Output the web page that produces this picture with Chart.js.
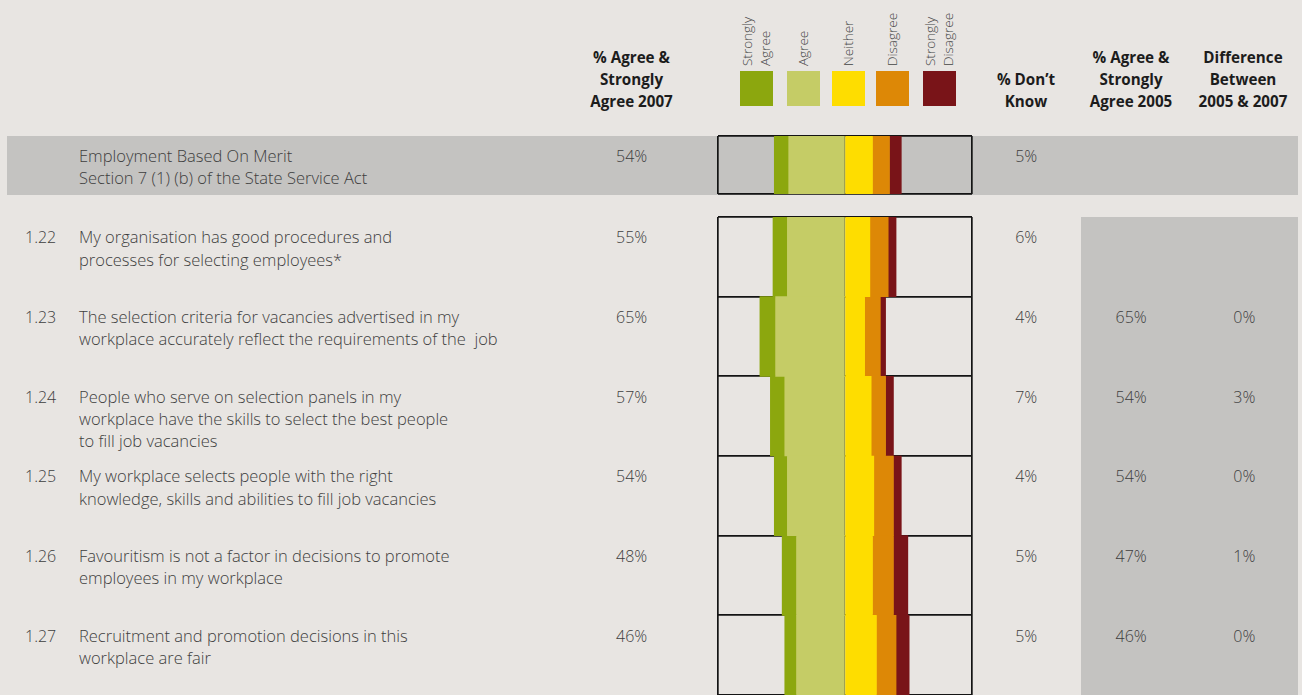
<!DOCTYPE html>
<html>
<head>
<meta charset="utf-8">
<script src="https://cdn.jsdelivr.net/npm/chart.js@4/dist/chart.umd.min.js"></script>
<style>
  html, body { margin: 0; padding: 0; background: #e8e5e2; width: 1302px; height: 695px; overflow: hidden;
    font-family: "Open Sans", "Noto Sans", sans-serif; color: #3e3e3e; }
  #page { position: relative; width: 1302px; height: 695px; }
  .band { position: absolute; background: #c4c3c1; }
  .head { position: absolute; font-weight: 700; font-size: 15.2px; line-height: 21.7px; text-align: center;
    color: #1c1c1c; transform: translateX(-50%); white-space: pre; }
  .txt { position: absolute; font-size: 16.5px; font-weight: 300; line-height: 22.4px; white-space: pre; }
  .code { position: absolute; font-size: 16px; font-weight: 300; line-height: 22.4px; white-space: pre; }
  .num { position: absolute; font-size: 16px; font-weight: 300; line-height: 22px; transform: translateX(-50%); white-space: pre; }
  .swatch { position: absolute; width: 33px; height: 35px; }
  .lgtext { position: absolute; font-size: 13.5px; font-weight: 300; line-height: 18.4px; transform-origin: 0 0;
    transform: rotate(-90deg); white-space: pre; color: #444; }
  canvas { position: absolute; }
</style>
</head>
<body>
<div id="page">
  <div class="band" style="left:7px; top:136px; width:1291px; height:58.6px;"></div>
  <div class="band" style="left:1081px; top:217.3px; width:217px; height:480px;"></div>
  <canvas id="topChart"></canvas>
  <canvas id="rowsChart"></canvas>
</div>
<script>
// Survey items: the first entry is the section summary row
const codes = ['', '1.22', '1.23', '1.24', '1.25', '1.26', '1.27'];
const statements = [
  'Employment Based On Merit\nSection 7 (1) (b) of the State Service Act',
  'My organisation has good procedures and\nprocesses for selecting employees*',
  'The selection criteria for vacancies advertised in my\nworkplace accurately reflect the requirements of the  job',
  'People who serve on selection panels in my\nworkplace have the skills to select the best people\nto fill job vacancies',
  'My workplace selects people with the right\nknowledge, skills and abilities to fill job vacancies',
  'Favouritism is not a factor in decisions to promote\nemployees in my workplace',
  'Recruitment and promotion decisions in this\nworkplace are fair'
];

// Response distribution (%)
const stronglyAgree    = [11, 11, 12, 11, 10, 11,  9];
const agree            = [43, 44, 53, 46, 44, 37, 37];
const neither          = [21, 19, 15, 20, 22, 21, 24];
const disagree         = [13, 14, 12, 11, 15, 16, 15];
const stronglyDisagree = [ 9,  6,  4,  6,  6, 11, 10];

// Table columns (%)
const agreeTotal2007 = [54, 55, 65, 57, 54, 48, 46];
const dontKnow       = [ 5,  6,  4,  7,  4,  5,  5];
const agreeTotal2005 = [null, null, 65, 54, 54, 47, 46];
const difference     = [null, null,  0,  3,  0,  1,  0];

const legendLabels = ['Strongly\nAgree', 'Agree', 'Neither', 'Disagree', 'Strongly\nDisagree'];

const COLORS = {
  stronglyAgree: '#8ca70e',
  agree: '#c5cc66',
  neither: '#fedd00',
  disagree: '#dd8806',
  stronglyDisagree: '#791418'
};

const SPAN = 97;           // half-width of the diverging axis, in %
const PAD = 2;             // canvas padding so the frame lines are not clipped
const BOX_LEFT = 717.8, BOX_WIDTH = 254.4;

function buildChart(id, from, to, top, height) {
  const canvas = document.getElementById(id);
  canvas.width = BOX_WIDTH + 2 * PAD;
  canvas.height = height + 2 * PAD;
  canvas.style.left = (BOX_LEFT - PAD) + 'px';
  canvas.style.top = (top - PAD) + 'px';
  const pick = arr => arr.slice(from, to);
  const neg = arr => pick(arr).map(v => -v);
  return new Chart(canvas, {
    type: 'bar',
    data: {
      labels: pick(codes),
      datasets: [
        // agree side grows leftwards from the centre line
        { label: 'Agree', data: neg(agree), backgroundColor: COLORS.agree },
        { label: 'Strongly Agree', data: neg(stronglyAgree), backgroundColor: COLORS.stronglyAgree },
        { label: 'Neither', data: pick(neither), backgroundColor: COLORS.neither },
        { label: 'Disagree', data: pick(disagree), backgroundColor: COLORS.disagree },
        { label: 'Strongly Disagree', data: pick(stronglyDisagree), backgroundColor: COLORS.stronglyDisagree }
      ]
    },
    options: {
      indexAxis: 'y',
      responsive: false,
      animation: false,
      layout: { padding: PAD },
      datasets: { bar: { barPercentage: 1, categoryPercentage: 1, borderWidth: 0 } },
      plugins: { legend: { display: false }, tooltip: { enabled: false } },
      scales: {
        x: {
          stacked: true, min: -SPAN, max: SPAN, z: 1,
          border: { display: false },
          ticks: { display: false },
          afterBuildTicks: axis => { axis.ticks = [-SPAN, 0, SPAN].map(v => ({ value: v })); },
          grid: {
            drawTicks: false, color: '#141414',
            lineWidth: c => (c.tick && c.tick.value === 0) ? 1.1 : 1.7
          }
        },
        y: {
          stacked: true, z: 1,
          border: { display: false },
          ticks: { display: false },
          grid: { drawTicks: false, offset: true, color: '#141414', lineWidth: 1.7 }
        }
      }
    }
  });
}

const topChart = buildChart('topChart', 0, 1, 136, 58.6);
const rowsChart = buildChart('rowsChart', 1, 7, 217.3, 6 * 79.8);

const page = document.getElementById('page');
function add(cls, text, left, top) {
  const d = document.createElement('div');
  d.className = cls;
  d.textContent = text;
  d.style.left = left + 'px';
  d.style.top = top + 'px';
  page.appendChild(d);
  return d;
}

// Column headings
add('head', '% Agree &\nStrongly\nAgree 2007', 631.5, 47.4);
add('head', '% Don\u2019t\nKnow', 1026, 68.8);
add('head', '% Agree &\nStrongly\nAgree 2005', 1131, 47.4);
add('head', 'Difference\nBetween\n2005 & 2007', 1243, 47.4);

// Legend swatches with rotated captions
const swatchColors = [COLORS.stronglyAgree, COLORS.agree, COLORS.neither, COLORS.disagree, COLORS.stronglyDisagree];
const swatchLeft = [740, 787, 831.7, 876, 923];
legendLabels.forEach((lab, i) => {
  const sw = add('swatch', '', swatchLeft[i], 71);
  sw.style.background = swatchColors[i];
  const lines = lab.split('\n').length;
  const cx = swatchLeft[i] + 16.5;
  add('lgtext', lab, cx - lines * 18.4 / 2, 66);
});

// Row texts, aligned to the rows of the bar charts
function rowTop(i) {
  if (i === 0) {
    const s = topChart.scales.y;
    return 136 - PAD + s.getPixelForValue(0) - s.height / 2;
  }
  const s = rowsChart.scales.y;
  const h = s.height / 6;
  return 217.3 - PAD + s.getPixelForValue(i - 1) - h / 2;
}
const pct = v => v + '%';
codes.forEach((code, i) => {
  const t = rowTop(i) + 9;
  if (code) add('code', code, 25, t);
  add('txt', statements[i], 79, t);
  add('num', pct(agreeTotal2007[i]), 631.7, t);
  add('num', pct(dontKnow[i]), 1026.2, t);
  if (agreeTotal2005[i] !== null) add('num', pct(agreeTotal2005[i]), 1131.2, t);
  if (difference[i] !== null) add('num', pct(difference[i]), 1244.3, t);
});
</script>
</body>
</html>
